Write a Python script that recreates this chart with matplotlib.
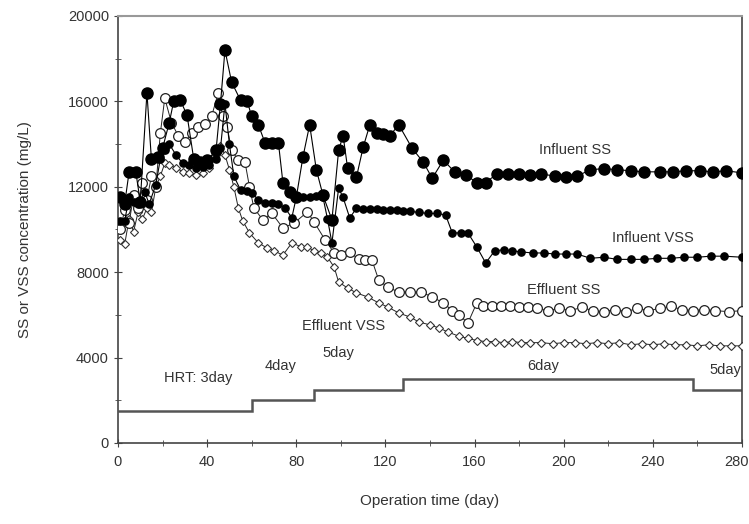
import matplotlib
matplotlib.use('Agg')
import matplotlib.pyplot as plt
from matplotlib.ticker import MultipleLocator, FuncFormatter

plt.rcParams['font.family'] = ['Liberation Sans', 'DejaVu Sans']

# Influent SS (large filled circles)
inf_ss_day = [1, 3, 5, 8, 10, 13, 15, 18, 20, 23, 25, 28, 31, 34, 37, 40, 44, 46, 48, 51,
              55, 58, 60, 63, 66, 69, 72, 74, 77, 80, 83, 86, 89, 92, 96, 99, 101, 103, 107, 110,
              113, 116, 119, 122, 126, 132, 137, 141, 146, 151, 156, 161, 165, 170, 175, 180,
              185, 190, 196, 201, 206, 212, 218, 224, 230, 236, 243, 249, 255, 261, 267, 273, 280]
inf_ss = [11500, 11200, 12700, 12700, 11300, 16400, 13300, 13400, 13800, 15000, 16000, 16050,
          15350, 13300, 13150, 13250, 13700, 15900, 18400, 16900,
          16050, 16000, 15300, 14900, 14050, 14050, 14050, 12200, 11750, 11500, 13400, 14900,
          12800, 11600, 10450, 13700, 14400, 12900, 12450, 13850,
          14900, 14500, 14450, 14400, 14900, 13800, 13150, 12400, 13250, 12700, 12550, 12200,
          12200, 12600, 12600, 12600,
          12550, 12600, 12500, 12450, 12500, 12800, 12850, 12800, 12750, 12700, 12700, 12700,
          12750, 12750, 12700, 12750, 12650]

# Influent VSS (small filled circles)
inf_vss_day = [1, 3, 5, 7, 9, 12, 14, 17, 19, 21, 23, 26, 29, 32, 35, 38, 41, 44, 46, 48,
               50, 52, 55, 58, 60, 63, 66, 69, 72, 75, 78, 80, 83, 86, 89, 92, 94, 96, 99, 101,
               104, 107, 110, 113, 116, 119, 122, 125, 128, 131, 135, 139, 143, 147, 150, 154,
               157, 161, 165, 169, 173, 177, 181, 186, 191, 196, 201, 206, 212, 218, 224, 230,
               236, 242, 248, 254, 260, 266, 272, 280]
inf_vss = [10400, 10400, 11500, 11300, 11200, 11750, 11200, 12100, 13300, 13700, 14000, 13500,
           13100, 13000, 12900, 12950, 13000, 13300, 13800, 15900,
           14000, 12500, 11850, 11800, 11700, 11400, 11250, 11250, 11200, 11000, 10550, 11500,
           11500, 11500, 11550, 11500, 10500, 9370, 11940, 11500,
           10540, 11000, 10950, 10950, 10950, 10900, 10900, 10900, 10850, 10850, 10800, 10750,
           10750, 10680, 9840, 9840,
           9840, 9180, 8430, 9000, 9050, 9000, 8950, 8900, 8900, 8850, 8850, 8850, 8650, 8700,
           8600, 8600,
           8600, 8650, 8650, 8700, 8700, 8750, 8750, 8700]

# Effluent SS (large open circles)
eff_ss_day = [1, 3, 5, 7, 9, 11, 13, 15, 17, 19, 21, 24, 27, 30, 33, 36, 39, 42, 45, 47,
              49, 51, 54, 57, 59, 61, 65, 69, 74, 79, 85, 88, 93, 97, 100, 104, 108, 111, 114,
              117, 121, 126, 131, 136, 141, 146, 150, 153, 157, 161, 164, 168, 172, 176, 180,
              184, 188, 193, 198, 203, 208, 213, 218, 223, 228, 233, 238, 243, 248, 253, 258,
              263, 268, 274, 280]
eff_ss = [10000, 10900, 10300, 11600, 11000, 12200, 11400, 12500, 12000, 14500, 16150, 15000,
          14400, 14100, 14500, 14800, 14950, 15300, 16400, 15300,
          14800, 13700, 13250, 13150, 12000, 11000, 10450, 10770, 10070, 10300, 10820, 10350,
          9500, 8900, 8800, 8950, 8600, 8570, 8550,
          7630, 7300, 7070, 7070, 7070, 6840, 6560, 6200, 6000, 5620, 6560, 6400, 6400, 6400,
          6400, 6350,
          6350, 6300, 6200, 6300, 6200, 6350, 6200, 6150, 6250, 6150, 6300, 6200, 6300, 6400,
          6250, 6200,
          6250, 6200, 6150, 6200]

# Effluent VSS (small open diamonds)
eff_vss_day = [1, 3, 5, 7, 9, 11, 13, 15, 17, 19, 21, 23, 26, 29, 32, 35, 38, 41, 44, 46,
               48, 50, 52, 54, 56, 59, 63, 67, 70, 74, 78, 82, 85, 88, 91, 94, 97, 99, 103, 107,
               112, 117, 121, 126, 131, 135, 140, 144, 148, 153, 157, 161, 165, 169, 173, 177,
               181, 185, 190, 195, 200, 205, 210, 215, 220, 225, 230, 235, 240, 245, 250, 255,
               260, 265, 270, 275, 280]
eff_vss = [9500, 9300, 10500, 9900, 10800, 10500, 11000, 10800, 12000, 12500, 13100, 13000,
           12900, 12700, 12650, 12550, 12650, 12900, 13500, 13900,
           13500, 12800, 12000, 11000, 10400, 9840, 9370, 9130, 9000, 8800, 9370, 9200, 9180,
           9000, 8900, 8700, 8240, 7540, 7260, 7030,
           6840, 6560, 6370, 6090, 5900, 5670, 5530, 5390, 5200, 5000, 4900, 4800, 4750, 4750,
           4700, 4750,
           4700, 4700, 4700, 4650, 4700, 4700, 4650, 4700, 4650, 4700, 4600, 4650, 4600, 4650,
           4600, 4600,
           4550, 4600, 4550, 4550, 4550]

# HRT steps
hrt_edges = [0, 60, 88, 128, 258, 280]
hrt_levels = [1500, 2000, 2500, 3000, 2500]
hrt_labels = ['HRT: 3day', '4day', '5day', '6day', '5day']
hrt_label_x = [36, 73, 99, 191, 279.5]
hrt_label_y = [3050, 3600, 4200, 3620, 3400]
hrt_label_ha = ['center', 'center', 'center', 'center', 'right']

x_max = 280

fig = plt.figure(figsize=(7.49, 5.24), dpi=100)
ax = fig.add_axes([0.1575, 0.1546, 0.8332, 0.8149])

ax.stairs(hrt_levels, hrt_edges, baseline=None, color='#555555', lw=1.8)

ax.plot(eff_vss_day, eff_vss, color='#222222', lw=0.7, marker='D', ms=4.2,
        mfc='white', mec='#333333', mew=0.8, zorder=3)
ax.plot(eff_ss_day, eff_ss, color='#222222', lw=0.7, marker='o', ms=7,
        mfc='white', mec='#222222', mew=0.9, zorder=4)
ax.plot(inf_vss_day, inf_vss, color='black', lw=0.8, marker='o', ms=5.2,
        mfc='black', mec='black', zorder=5)
ax.plot(inf_ss_day, inf_ss, color='black', lw=0.8, marker='o', ms=8,
        mfc='black', mec='black', zorder=6)

txt = dict(fontsize=10.5, color='#333333', va='center')
for lab, x, y, ha in zip(hrt_labels, hrt_label_x, hrt_label_y, hrt_label_ha):
    ax.text(x, y, lab, ha=ha, **txt)
ax.text(205, 13720, 'Influent SS', ha='center', **txt)
ax.text(240, 9600, 'Influent VSS', ha='center', **txt)
ax.text(200, 7170, 'Effluent SS', ha='center', **txt)
ax.text(101, 5480, 'Effluent VSS', ha='center', **txt)

ax.set_xlim(0, x_max)
ax.set_ylim(0, 20000)
ax.xaxis.set_major_locator(MultipleLocator(40))
ax.xaxis.set_minor_locator(MultipleLocator(20))
ax.yaxis.set_major_locator(MultipleLocator(4000))
ax.yaxis.set_minor_locator(MultipleLocator(2000))
# the last label is drawn by hand so that it stays inside the figure
ax.xaxis.set_major_formatter(FuncFormatter(lambda v, p: '' if v >= x_max else '%d' % v))
ax.tick_params(which='both', direction='inout', colors='#444444', labelcolor='#333333',
               labelsize=10.5)
ax.tick_params(which='major', length=6)
ax.tick_params(which='minor', length=4)
ax.tick_params(axis='x', pad=6)
ax.annotate('%d' % x_max, xy=(x_max, 0), xycoords='data', xytext=(5, -9),
            textcoords='offset points', ha='right', va='top', fontsize=10.5,
            color='#333333', annotation_clip=False)

for s in ['left', 'bottom', 'right']:
    ax.spines[s].set_color('#444444')
    ax.spines[s].set_linewidth(1.2)
ax.spines['top'].set_color('#999999')
ax.spines['top'].set_linewidth(1.5)

ax.set_xlabel('Operation time (day)', fontsize=11, color='#333333', labelpad=18)
ax.set_ylabel('SS or VSS concentration (mg/L)', fontsize=11, color='#333333', labelpad=26)

fig.savefig('out.png', dpi=100)
